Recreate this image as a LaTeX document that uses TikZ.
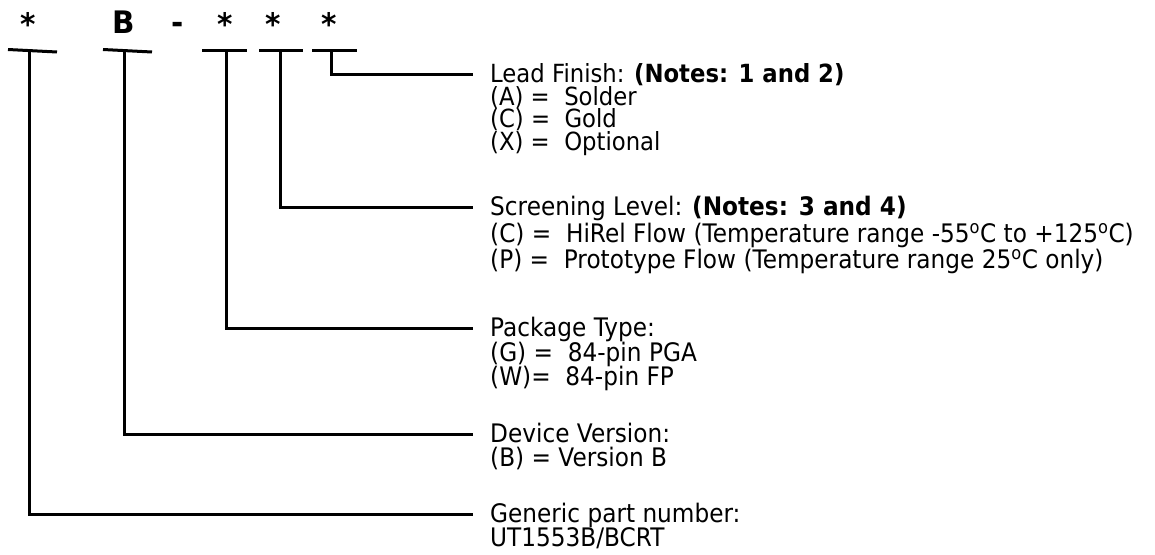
\documentclass[tikz,border=0pt]{standalone}
\usepackage{fontspec}
\setmainfont[FakeStretch=0.91]{DejaVu Sans}
\newfontfamily\topfont[FakeStretch=0.95]{DejaVu Sans}
\newcommand\lsfix{\lineskiplimit -50pt\relax}
\begin{document}
\begin{tikzpicture}[x=1pt,y=-1pt,
  conn/.style={line width=3pt,line join=miter},
  bar/.style={line width=3pt},
  topchar/.style={font=\topfont\fontsize{31}{32}\selectfont\bfseries,inner sep=0pt,anchor=base},
  blk/.style={anchor=north west,inner sep=0pt,align=left,font=\fontsize{25.5}{24.5}\selectfont\lsfix},
  blktight/.style={blk,font=\fontsize{25}{22.5}\selectfont\lsfix},
  blkwide/.style={blk,font=\fontsize{25.5}{26.5}\selectfont\lsfix},
  blkdev/.style={blk,font=\fontsize{25.5}{24}\selectfont\lsfix}]
\useasboundingbox (0,0) rectangle (1155,554);
% top characters
\node[topchar] (s1) at (28,35) {*};
\node[topchar] (sB) at (124,33) {B};
\node[topchar] (sd) at (178,33) {-};
\node[topchar] (s3) at (225,35) {*};
\node[topchar] (s4) at (273,35) {*};
\node[topchar] (s5) at (329,35) {*};
% bars under the characters
\draw[bar] (8,49.5) -- (57,52);
\draw[bar] (103,49.5) -- (152,52);
\draw[bar] (202,50.5) -- (247,50.5);
\draw[bar] (259,50.5) -- (303,50.5);
\draw[bar] (312,50.5) -- (357,50.5);
% connector start points (bar centres)
\coordinate (b1) at (29,51);
\coordinate (b2) at (124,51);
\coordinate (b3) at (226,50.5);
\coordinate (b4) at (280,50.5);
\coordinate (b5) at (331,50.5);
% connector end points
\coordinate (e5) at (473,74);
\coordinate (e4) at (473,207);
\coordinate (e3) at (473,328);
\coordinate (e2) at (473,434);
\coordinate (e1) at (473,514);
% text blocks (first baseline = connector y + 8.5)
\node[blktight] (lead) at (490,74-13.5) {\rule{0pt}{22pt}Lead Finish: \textbf{(Notes: 1 and 2)}\\
(A) =\ \ Solder\\(C) =\ \ Gold\\(X) =\ \ Optional};
\node[blkwide] (screen) at (490,207-13.5) {\rule{0pt}{22pt}Screening Level: \textbf{(Notes: 3 and 4)}\\
(C) =\ \ HiRel Flow (Temperature range -55\textsuperscript{o}C to +125\textsuperscript{o}C)\\
(P) =\ \ Prototype Flow (Temperature range 25\textsuperscript{o}C only)};
\node[blk] (pkg) at (490,328-13.5) {\rule{0pt}{22pt}Package Type:\\(G) =\ \ 84-pin PGA\\(W)=\ \ 84-pin FP};
\node[blkdev] (dev) at (490,434-13.5) {\rule{0pt}{22pt}Device Version:\\(B) = Version B};
\node[blkdev] (gen) at (490,514-13.5) {\rule{0pt}{22pt}Generic part number:\\UT1553B/BCRT};
% connectors
\draw[conn] (b5) |- (e5);
\draw[conn] (b4) |- (e4);
\draw[conn] (b3) |- (e3);
\draw[conn] (b2) |- (e2);
\draw[conn] (b1) |- (e1);
\end{tikzpicture}
\end{document}
